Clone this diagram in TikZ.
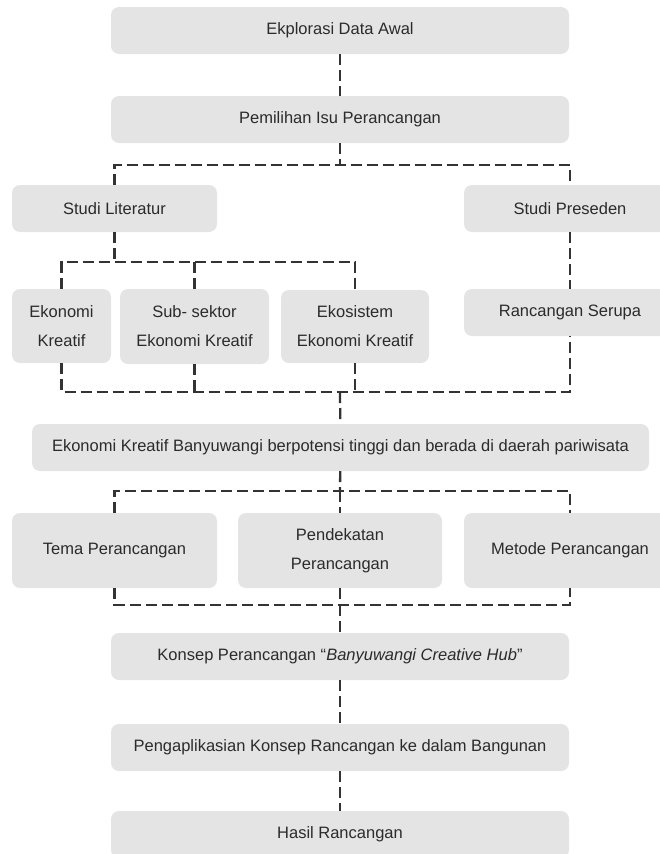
\documentclass[tikz,border=0pt]{standalone}
\usepackage{fontspec}
\setmainfont{Liberation Sans}
\usepackage{tikz}

\definecolor{boxgray}{HTML}{E4E4E4}
\definecolor{textgray}{HTML}{2B2B2B}
\definecolor{linegray}{HTML}{333333}

\tikzset{
  box/.style={fill=boxgray, rounded corners=8pt, minimum height=47pt, inner sep=0pt,
    text=textgray, align=center, font=\fontsize{16.5}{29}\selectfont},
  link/.style={draw=linegray, line width=2.3pt, dash pattern=on 11pt off 5pt}
}

\begin{document}
\begin{tikzpicture}[x=1pt,y=-1pt]
            \useasboundingbox (0,0) rectangle (659,854);

            \node[box, minimum width=458pt] (awal) at (340,30.5) {Ekplorasi Data Awal};
            \node[box, minimum width=458pt] (isu) at (340,119.5) {Pemilihan Isu Perancangan};
            \node[box, minimum width=205pt] (literatur) at (114.5,208.5) {Studi Literatur};
            \node[box, minimum width=212pt] (preseden) at (570,208.5) {Studi Preseden};
            \node[box, minimum width=99pt, minimum height=74pt] (ekraf) at (61.5,326) {Ekonomi \\ Kreatif};
            \node[box, minimum width=149pt, minimum height=75pt] (subsektor) at (194.5,326.5) {Sub- sektor \\ Ekonomi Kreatif};
            \node[box, minimum width=148pt, minimum height=73pt] (ekosistem) at (355,326.5) {Ekosistem \\ Ekonomi Kreatif};
            \node[box, minimum width=212pt] (serupa) at (570,312.5) {Rancangan Serupa};
            \node[box, minimum width=617pt] (potensi) at (340.5,447.5) {Ekonomi Kreatif Banyuwangi berpotensi tinggi dan berada di daerah pariwisata};
            \node[box, minimum width=205pt, minimum height=75pt] (tema) at (114.5,550.5) {Tema Perancangan};
            \node[box, minimum width=204pt, minimum height=75pt] (pendekatan) at (340,550.5) {Pendekatan \\ Perancangan};
            \node[box, minimum width=212pt, minimum height=75pt] (metode) at (570,550.5) {Metode Perancangan};
            \node[box, minimum width=458pt] (konsep) at (340,656.5) {Konsep Perancangan “\textit{Banyuwangi Creative Hub}”};
            \node[box, minimum width=458pt] (aplikasi) at (340,747.5) {Pengaplikasian Konsep Rancangan ke dalam Bangunan};
            \node[box, minimum width=458pt] (hasil) at (340,834.5) {Hasil Rancangan};

            \coordinate (cab1) at (340,165);
            \coordinate (cab2) at (114.5,262);
            \coordinate (gab1) at (340,392);
            \coordinate (cab3) at (340,491);
            \coordinate (gab2) at (340,605);

            \draw[link] (awal) -- (isu);
            \draw[link] (isu) -- (cab1);
            \draw[link] (literatur.north) |- (cab1) -| (preseden.north);

            \draw[link] (literatur) -- (cab2);
            \draw[link] (ekraf.north) |- (cab2) -| (ekosistem.north);
            \draw[link] (subsektor.north) -- (subsektor.north |- cab2);
            \draw[link] (preseden) -- (serupa);

            \draw[link] (ekraf.south) |- (gab1) -| (serupa.south);
            \draw[link] (subsektor.south) -- (subsektor.south |- gab1);
            \draw[link] (ekosistem.south) -- (ekosistem.south |- gab1);
            \draw[link] (gab1) -- (potensi);

            \draw[link] (potensi) -- (cab3);
            \draw[link] (tema.north) |- (cab3) -| (metode.north);
            \draw[link] (cab3) -- (pendekatan);

            \draw[link] (tema.south) |- (gab2) -| (metode.south);
            \draw[link] (pendekatan) -- (gab2);
            \draw[link] (gab2) -- (konsep);
            \draw[link] (konsep) -- (aplikasi);
            \draw[link] (aplikasi) -- (hasil);

        \end{tikzpicture}
\end{document}
